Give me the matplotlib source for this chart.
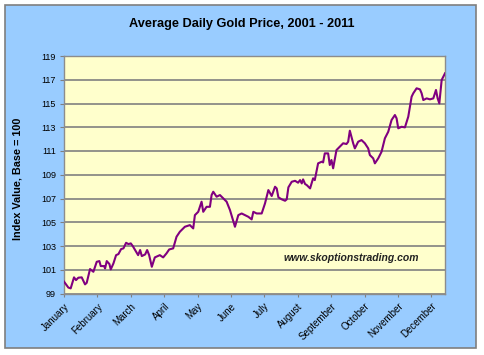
import numpy as np
import matplotlib
matplotlib.use('Agg')
import matplotlib.pyplot as plt
from matplotlib.patches import Rectangle

plt.rcParams['font.family'] = ['Liberation Sans', 'DejaVu Sans']

# 月份标签
months = ['January', 'February', 'March', 'April', 'May', 'June', 'July',
          'August', 'September', 'October', 'November', 'December']

# 位置 (以月为单位) 和指数值
pos = [0.00, 0.13, 0.20, 0.30, 0.36, 0.43, 0.53, 0.63, 0.68, 0.78, 0.88, 0.98,
       1.06, 1.10, 1.20, 1.23, 1.28, 1.36, 1.40, 1.48, 1.56, 1.63, 1.71, 1.78,
       1.86, 1.93, 2.00, 2.06, 2.16, 2.22, 2.28, 2.33, 2.43, 2.49, 2.55, 2.63,
       2.72, 2.87, 2.97, 3.07, 3.15, 3.27, 3.37, 3.47, 3.62, 3.77, 3.87, 3.92,
       4.02, 4.12, 4.17, 4.27, 4.37, 4.42, 4.47, 4.57, 4.67, 4.77, 4.87, 4.97,
       5.12, 5.22, 5.32, 5.42, 5.52, 5.62, 5.67, 5.77, 5.92, 6.02, 6.12, 6.22,
       6.32, 6.37, 6.42, 6.52, 6.62, 6.67, 6.72, 6.82, 6.92, 7.01, 7.07, 7.12,
       7.16, 7.22, 7.27, 7.37, 7.46, 7.51, 7.61, 7.72, 7.76, 7.81, 7.91, 7.96,
       8.01, 8.06, 8.16, 8.26, 8.36, 8.46, 8.51, 8.56, 8.66, 8.71, 8.81, 8.91,
       9.01, 9.11, 9.16, 9.26, 9.31, 9.41, 9.51, 9.61, 9.71, 9.81, 9.91, 9.96,
       10.01, 10.11, 10.21, 10.31, 10.41, 10.46, 10.56, 10.66, 10.71, 10.76,
       10.86, 10.96, 11.06, 11.14, 11.19, 11.24, 11.31, 11.41]
index_value = [100.0, 99.5, 99.43, 100.36, 100.13, 100.33, 100.36, 99.77, 99.9,
               101.06, 100.83, 101.67, 101.73, 101.31, 101.31, 101.11, 101.73,
               101.48, 101.03, 101.53, 102.23, 102.32, 102.74, 102.8, 103.27,
               103.16, 103.22, 102.99, 102.51, 102.23, 102.66, 102.15, 102.29,
               102.66, 102.23, 101.25, 102.04, 102.23, 102.04, 102.38, 102.71,
               102.8, 103.78, 104.2, 104.62, 104.76, 104.48, 105.6, 105.88,
               106.73, 105.88, 106.3, 106.3, 107.29, 107.57, 107.15, 107.29,
               107.01, 106.73, 106.03, 104.62, 105.6, 105.74, 105.6, 105.46,
               105.24, 105.88, 105.74, 105.74, 106.59, 107.71, 107.21, 107.99,
               107.85, 107.1, 106.93, 106.81, 106.93, 107.94, 108.41, 108.49,
               108.33, 108.55, 108.27, 108.61, 108.22, 108.13, 107.85, 108.7,
               108.55, 109.96, 110.1, 110.04, 110.8, 110.8, 109.82, 110.24,
               109.54, 111.08, 111.36, 111.65, 111.59, 111.78, 112.71, 111.65,
               111.22, 111.78, 111.92, 111.65, 111.22, 110.66, 110.38, 109.96,
               110.38, 110.94, 112.07, 112.62, 113.61, 114.03, 113.75, 112.91,
               113.04, 112.99, 113.89, 115.57, 115.86, 116.28, 116.19, 115.86,
               115.29, 115.43, 115.35, 115.43, 116.14, 115.43, 115.01, 116.98,
               117.54]
yticks = [99, 101, 103, 105, 107, 109, 111, 113, 115, 117, 119]

fig = plt.figure(figsize=(4.84, 3.55), dpi=100, facecolor='white')
fig.patches.append(Rectangle((5 / 484, 1 - 348 / 355), 471 / 484, 343 / 355,
                             transform=fig.transFigure, facecolor='#99CCFF',
                             edgecolor='#7f7f7f', linewidth=1.2, zorder=-5))

ax = fig.add_axes([64 / 484, 1 - 293.5 / 355, 381 / 484, 237.5 / 355])
ax.set_zorder(2)
ax.set_facecolor('#FFFFCC')
ax.plot(pos, index_value, color='#800080', linewidth=1.5, zorder=3)

ax.set_xlim(0, 11.41)
ax.set_ylim(99, 119)
ax.set_yticks(yticks)
ax.set_xticks(range(len(months)))
ax.set_xticklabels(months, rotation=45, ha='right', va='top',
                   rotation_mode='anchor', fontsize=7)
ax.tick_params(axis='y', labelsize=6.5, length=3, color='#7f7f7f', pad=2.8)
ax.tick_params(axis='x', length=2.5, color='#7f7f7f', pad=3)
ax.grid(axis='y', color='#808080', linewidth=1.2)
ax.set_axisbelow(True)
for s in ax.spines.values():
    s.set_color('#8c8c8c')
    s.set_linewidth(1.0)

fig.text(0.5, 1 - 24.5 / 355, 'Average Daily Gold Price, 2001 - 2011',
         ha='center', va='center', fontsize=9.2, fontweight='bold', zorder=3)
fig.text(18 / 484, 1 - 179 / 355, 'Index Value, Base = 100', rotation=90,
         ha='center', va='center', fontsize=7.8, fontweight='bold', zorder=3)
ax.text(8.6, 102.0, 'www.skoptionstrading.com', ha='center', va='center',
        fontsize=7.5, fontweight='bold', style='italic', color='#222222')

plt.savefig('out.png', dpi=100, facecolor=fig.get_facecolor())
